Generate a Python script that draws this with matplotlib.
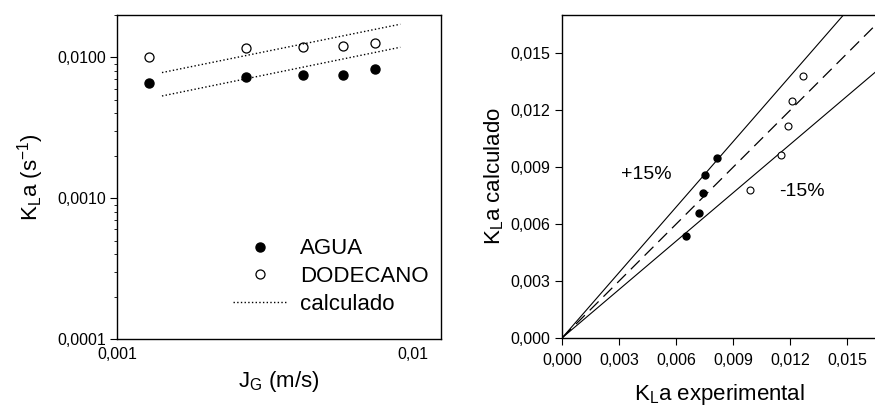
import matplotlib
matplotlib.use("Agg")
import matplotlib.pyplot as plt
from matplotlib.ticker import FixedLocator, FixedFormatter, LogLocator, NullFormatter, NullLocator
import numpy as np

plt.rcParams['font.family'] = ['Liberation Sans', 'DejaVu Sans']
plt.rcParams['mathtext.default'] = 'regular'

# ---- dados: KLa vs JG (painel esquerdo) ----
jg = [0.00128, 0.00274, 0.00427, 0.00584, 0.0075]
kla_agua = [0.00658, 0.00726, 0.0075, 0.00753, 0.00823]
kla_dodecano = [0.0100, 0.0116, 0.0119, 0.0121, 0.0126]
jg_calc = [0.00142, 0.0091]
kla_calc_agua = [0.00532, 0.0118]
kla_calc_dodecano = [0.0078, 0.0172]

# ---- dados: calculado vs experimental (painel direito) ----
exp_agua = [0.00814, 0.0075, 0.00739, 0.00721, 0.00653]
calc_agua = [0.00949, 0.00856, 0.00764, 0.0066, 0.00536]
exp_dodecano = [0.01268, 0.0121, 0.0119, 0.01151, 0.00988]
calc_dodecano = [0.01382, 0.01247, 0.01114, 0.00963, 0.00779]
desvio = 0.15

fig = plt.figure(figsize=(8.75, 4.11), dpi=100)

# painel esquerdo
ax1 = fig.add_axes([117 / 875, 1 - 339 / 411, (441 - 117) / 875, (339 - 15) / 411])
ax1.plot(jg, kla_agua, 'o', color='black', ms=6.5, label='AGUA')
ax1.plot(jg, kla_dodecano, 'o', mfc='white', mec='black', mew=0.9, ms=6.5, label='DODECANO')
ax1.plot(jg_calc, kla_calc_agua, color='black', ls=':', lw=1.0, label='calculado')
ax1.plot(jg_calc, kla_calc_dodecano, color='black', ls=':', lw=1.0)
ax1.set_xscale('log')
ax1.set_yscale('log')
ax1.set_xlim(0.001, 0.0125)
ax1.set_ylim(0.0001, 0.02)
ax1.xaxis.set_major_locator(FixedLocator([0.001, 0.01]))
ax1.xaxis.set_major_formatter(FixedFormatter(['0,001', '0,01']))
ax1.xaxis.set_minor_locator(NullLocator())
ax1.yaxis.set_major_locator(FixedLocator([0.0001, 0.001, 0.01]))
ax1.yaxis.set_major_formatter(FixedFormatter(['0,0001', '0,0010', '0,0100']))
ax1.yaxis.set_minor_locator(LogLocator(base=10, subs=np.arange(2, 10)))
ax1.yaxis.set_minor_formatter(NullFormatter())
ax1.tick_params(axis='x', which='both', length=0, pad=6, labelsize=11.5)
ax1.tick_params(axis='y', which='major', direction='out', length=5, pad=3, labelsize=11.5)
ax1.tick_params(axis='y', which='minor', direction='out', length=2.5)
ax1.set_xlabel('J$_G$ (m/s)', fontsize=16, labelpad=5)
ax1.set_ylabel('K$_L$a (s$^{-1}$)', fontsize=16, labelpad=8)
ax1.legend(loc='upper left', bbox_to_anchor=(0.325, 0.345), frameon=False, fontsize=16,
           handlelength=2.4, handletextpad=0.6, labelspacing=0.3, borderpad=0)

# painel direito
ax2 = fig.add_axes([562.3 / 875, 1 - 337.7 / 411, 313.5 / 875, (337.7 - 15.3) / 411])
xs = np.array([0.0, 0.02])
ax2.plot(xs, xs * (1 + desvio), color='black', lw=0.8)
ax2.plot(xs, xs * (1 - desvio), color='black', lw=0.8)
ax2.plot(xs, xs, color='black', lw=0.9, dashes=(10, 5.5))
ax2.plot(exp_agua, calc_agua, 'o', color='black', ms=5)
ax2.plot(exp_dodecano, calc_dodecano, 'o', mfc='white', mec='black', mew=0.8, ms=5)
ax2.text(0.00444, 0.0086, '+15%', fontsize=14, ha='center', va='center')
ax2.text(0.0126, 0.0077, '-15%', fontsize=14, ha='center', va='center')
ax2.set_xlim(0, 0.0165)
ax2.set_ylim(0, 0.017)
ticks = [0.0, 0.003, 0.006, 0.009, 0.012, 0.015]
labels = ['0,000', '0,003', '0,006', '0,009', '0,012', '0,015']
ax2.set_xticks(ticks)
ax2.set_xticklabels(labels)
ax2.set_yticks(ticks)
ax2.set_yticklabels(labels)
ax2.tick_params(axis='x', direction='out', length=5, pad=6, labelsize=11.5)
ax2.tick_params(axis='y', direction='out', length=5, pad=4, labelsize=11.5)
ax2.spines['right'].set_visible(False)
ax2.set_xlabel('K$_L$a experimental', fontsize=16, labelpad=10)
ax2.set_ylabel('K$_L$a calculado', fontsize=16, labelpad=3)

for ax in (ax1, ax2):
    for s in ax.spines.values():
        s.set_linewidth(1.0)

fig.savefig('out.png', dpi=100)
